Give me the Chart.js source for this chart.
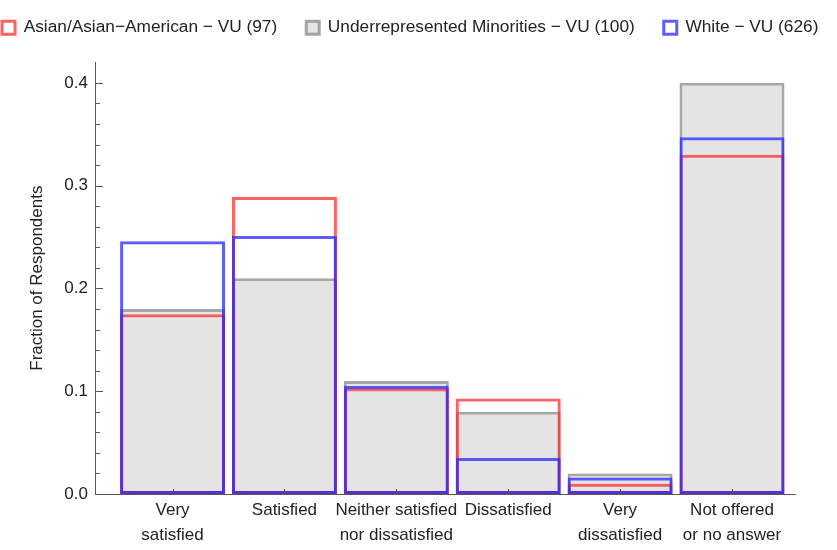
<!DOCTYPE html>
<html>
<head>
<meta charset="utf-8">
<script src="https://cdn.jsdelivr.net/npm/chart.js@4/dist/chart.umd.min.js"></script>
<style>
  html, body { margin: 0; padding: 0; background: #ffffff; }
  #wrap { width: 837px; height: 550px; position: relative; }
</style>
</head>
<body>
<div id="wrap"><canvas id="c" width="837" height="550"></canvas></div>
<script>
// ---- data ----
const categories = ['Very satisfied', 'Satisfied', 'Neither satisfied nor dissatisfied', 'Dissatisfied', 'Very dissatisfied', 'Not offered or no answer'];
const tickLabels = [['Very', 'satisfied'], ['Satisfied'], ['Neither satisfied', 'nor dissatisfied'], ['Dissatisfied'], ['Very', 'dissatisfied'], ['Not offered', 'or no answer']];
const seriesNames = ['Asian/Asian\u2212American \u2212 VU (97)', 'Underrepresented Minorities \u2212 VU (100)', 'White \u2212 VU (626)'];
const asianValues = [0.175, 0.289, 0.103, 0.093, 0.010, 0.330];
const urmValues = [0.180, 0.210, 0.110, 0.080, 0.020, 0.400];
const whiteValues = [0.246, 0.251, 0.105, 0.035, 0.016, 0.347];
const yTickValues = [0, 0.1, 0.2, 0.3, 0.4];
const yAxisTitle = 'Fraction of Respondents';

const toPoints = vals => vals.map((v, i) => ({ x: i + 1, y: v }));

const FONT = 'Liberation Sans, Arial, Helvetica, sans-serif';
const AXIS_COLOR = '#555555';
const TEXT_COLOR = '#222222';

// keep the legend on one row and leave a gap below it
const legendGap = {
  id: 'legendGap',
  afterInit(chart) {
    const lg = chart.legend;
    if (lg && !lg._gapWrapped) {
      const orig = lg.fit.bind(lg);
      lg.fit = function () {
        const mw = this.maxWidth;
        this.maxWidth = mw + 300;
        orig();
        this.maxWidth = mw;
        this.width = Math.min(this.width, mw);
        this.height += 16;
      };
      lg._gapWrapped = true;
    }
  },
  afterLayout(chart) {
    const lg = chart.legend;
    if (lg) { lg.right += 300; lg.width += 300; }
  }
};

// inward tick marks like the reference frame
const innerTicks = {
  id: 'innerTicks',
  afterDraw(chart) {
    const { ctx, scales: { x, y } } = chart;
    ctx.save();
    ctx.strokeStyle = AXIS_COLOR;
    ctx.lineWidth = 1;
    const left = x.left;
    for (let k = 0; k <= 20; k++) {
      const v = k / 50;
      const py = Math.round(y.getPixelForValue(v)) + 0.5;
      const len = (k % 5 === 0) ? 8 : 5;
      ctx.beginPath();
      ctx.moveTo(left, py);
      ctx.lineTo(left + len, py);
      ctx.stroke();
    }
    const bottom = y.bottom;
    for (let i = 0; i < categories.length; i++) {
      const px = Math.round(x.getPixelForValue(i + 1)) + 0.5;
      ctx.beginPath();
      ctx.moveTo(px, bottom);
      ctx.lineTo(px, bottom - 5);
      ctx.stroke();
    }
    ctx.restore();
  }
};

const ctx = document.getElementById('c').getContext('2d');
new Chart(ctx, {
  type: 'bar',
  data: {
    datasets: [
      {
        label: seriesNames[0],
        data: toPoints(asianValues),
        backgroundColor: 'rgba(0,0,0,0)',
        borderColor: 'rgba(255,45,45,0.75)',
        borderWidth: 3,
        borderSkipped: false,
        grouped: false,
        order: 2
      },
      {
        label: seriesNames[1],
        data: toPoints(urmValues),
        backgroundColor: '#e4e4e4',
        borderColor: 'rgba(120,120,120,0.65)',
        borderWidth: 3,
        borderSkipped: false,
        grouped: false,
        order: 3
      },
      {
        label: seriesNames[2],
        data: toPoints(whiteValues),
        backgroundColor: 'rgba(0,0,0,0)',
        borderColor: 'rgba(40,40,255,0.75)',
        borderWidth: 3,
        borderSkipped: false,
        grouped: false,
        order: 1
      }
    ]
  },
  options: {
    responsive: false,
    animation: false,
    devicePixelRatio: 1,
    categoryPercentage: 1.0,
    barPercentage: 0.938,
    layout: { padding: { left: -27, right: 42, top: -10, bottom: 0 } },
    plugins: {
      tooltip: { enabled: false },
      legend: {
        display: true,
        position: 'top',
        align: 'start',
        labels: {
          boxWidth: 13,
          boxHeight: 13,
          padding: 29,
          color: TEXT_COLOR,
          font: { family: FONT, size: 17.3 },
          sort: (a, b) => a.datasetIndex - b.datasetIndex
        }
      }
    },
    scales: {
      x: {
        type: 'linear',
        min: 0.307,
        max: 6.563,
        offset: false,
        grid: { display: false, drawTicks: false },
        border: { display: true, color: AXIS_COLOR, width: 1 },
        afterBuildTicks: (scale) => { scale.ticks = tickLabels.map((_, i) => ({ value: i + 1 })); },
        afterFit: (scale) => { scale.height = 56; },
        ticks: {
          autoSkip: false,
          maxRotation: 0,
          minRotation: 0,
          padding: 4,
          color: TEXT_COLOR,
          font: { family: FONT, size: 17, lineHeight: 1.47 },
          callback: (value) => tickLabels[Math.round(value) - 1] || ''
        }
      },
      y: {
        type: 'linear',
        min: 0,
        max: 0.42,
        grid: { display: false, drawTicks: false },
        border: { display: true, color: AXIS_COLOR, width: 1 },
        afterBuildTicks: (scale) => { scale.ticks = yTickValues.map(v => ({ value: v })); },
        afterFit: (scale) => { scale.width = 122; },
        ticks: {
          padding: 7,
          color: TEXT_COLOR,
          font: { family: FONT, size: 17 },
          callback: (value) => Number(value).toFixed(1)
        },
        title: {
          display: true,
          text: yAxisTitle,
          color: TEXT_COLOR,
          font: { family: FONT, size: 17 },
          padding: { top: 54, bottom: 0 }
        }
      }
    }
  },
  plugins: [legendGap, innerTicks]
});
</script>
</body>
</html>
